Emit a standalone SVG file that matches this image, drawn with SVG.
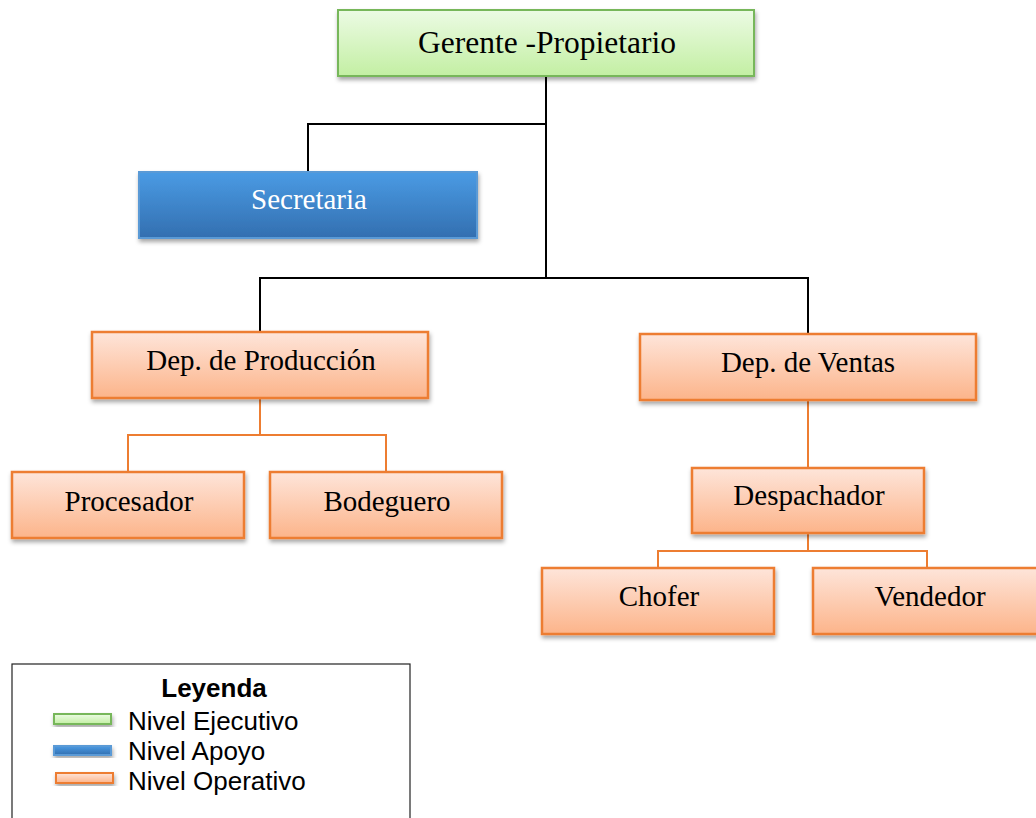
<svg xmlns="http://www.w3.org/2000/svg" width="1036" height="818" viewBox="0 0 1036 818">
<defs>
<linearGradient id="gG" x1="0" y1="0" x2="0" y2="1"><stop offset="0" stop-color="#ecfbe4"/><stop offset="1" stop-color="#c3efa3"/></linearGradient>
<linearGradient id="gB" x1="0" y1="0" x2="0" y2="1"><stop offset="0" stop-color="#4a9be4"/><stop offset="1" stop-color="#336fb0"/></linearGradient>
<linearGradient id="gO" x1="0" y1="0" x2="0" y2="1"><stop offset="0" stop-color="#fee5da"/><stop offset="1" stop-color="#fcb48a"/></linearGradient>
<filter id="sh" x="-10%" y="-20%" width="120%" height="150%"><feDropShadow dx="1" dy="3" stdDeviation="2" flood-color="#000" flood-opacity="0.35"/></filter>
</defs>
<style>
.g{fill:url(#gG);stroke:#77b75a;stroke-width:2}
.b{fill:url(#gB);stroke:#5a9ad6;stroke-width:2}
.o{fill:url(#gO);stroke:#ed7d31;stroke-width:2.5}
.t{font-family:"Liberation Serif","Times New Roman",serif;font-size:29px;text-anchor:middle;fill:#000}
.k{stroke:#000;stroke-width:2;fill:none}
.oc{stroke:#ed7d31;stroke-width:2;fill:none}
.lt{font-family:"Liberation Sans",Arial,sans-serif;font-size:26px;fill:#000}
</style>
<g id="connectors">
<polyline class="k" points="546,76 546,278"/>
<polyline class="k" points="308,172 308,124 546,124"/>
<polyline class="k" points="260,332 260,278 808,278 808,334"/>
<polyline class="oc" points="260,398 260,435"/>
<polyline class="oc" points="128,472 128,435 386,435 386,472"/>
<polyline class="oc" points="808,400 808,468"/>
<polyline class="oc" points="808,533 808,551"/>
<polyline class="oc" points="658,568 658,551 927,551 927,568"/>
</g>
<g id="gerente"><rect class="g" x="338" y="10" width="416" height="66" filter="url(#sh)"/><text class="t" x="547" y="53" style="font-size:31.5px">Gerente -Propietario</text></g>
<g id="secretaria"><rect class="b" x="139" y="172" width="338" height="66" filter="url(#sh)"/><text class="t" x="309" y="209" style="fill:#fff">Secretaria</text></g>
<g id="produccion"><rect class="o" x="92" y="332" width="336" height="66" filter="url(#sh)"/><text class="t" x="261" y="370">Dep. de Producción</text></g>
<g id="ventas"><rect class="o" x="640" y="334" width="336" height="66" filter="url(#sh)"/><text class="t" x="808" y="372">Dep. de Ventas</text></g>
<g id="procesador"><rect class="o" x="12" y="472" width="232" height="66" filter="url(#sh)"/><text class="t" x="129" y="511">Procesador</text></g>
<g id="bodeguero"><rect class="o" x="270" y="472" width="232" height="66" filter="url(#sh)"/><text class="t" x="387" y="511">Bodeguero</text></g>
<g id="despachador"><rect class="o" x="692" y="468" width="232" height="65" filter="url(#sh)"/><text class="t" x="809" y="505">Despachador</text></g>
<g id="chofer"><rect class="o" x="542" y="568" width="232" height="66" filter="url(#sh)"/><text class="t" x="659" y="606">Chofer</text></g>
<g id="vendedor"><rect class="o" x="813" y="568" width="232" height="66" filter="url(#sh)"/><text class="t" x="930" y="606">Vendedor</text></g>
<g id="legend">
<rect x="12" y="664" width="398" height="170" fill="#fff" stroke="#222" stroke-width="1.2"/>
<text x="214" y="697" class="lt" style="font-weight:bold;text-anchor:middle">Leyenda</text>
<rect class="g" x="54" y="714" width="57" height="10" filter="url(#sh)"/>
<rect class="b" x="54" y="746" width="57" height="9" filter="url(#sh)"/>
<rect class="o" x="56" y="773" width="57" height="10" filter="url(#sh)" style="stroke-width:2"/>
<text x="128" y="730" class="lt">Nivel Ejecutivo</text>
<text x="128" y="760" class="lt">Nivel Apoyo</text>
<text x="128" y="790" class="lt">Nivel Operativo</text>
</g>
</svg>
